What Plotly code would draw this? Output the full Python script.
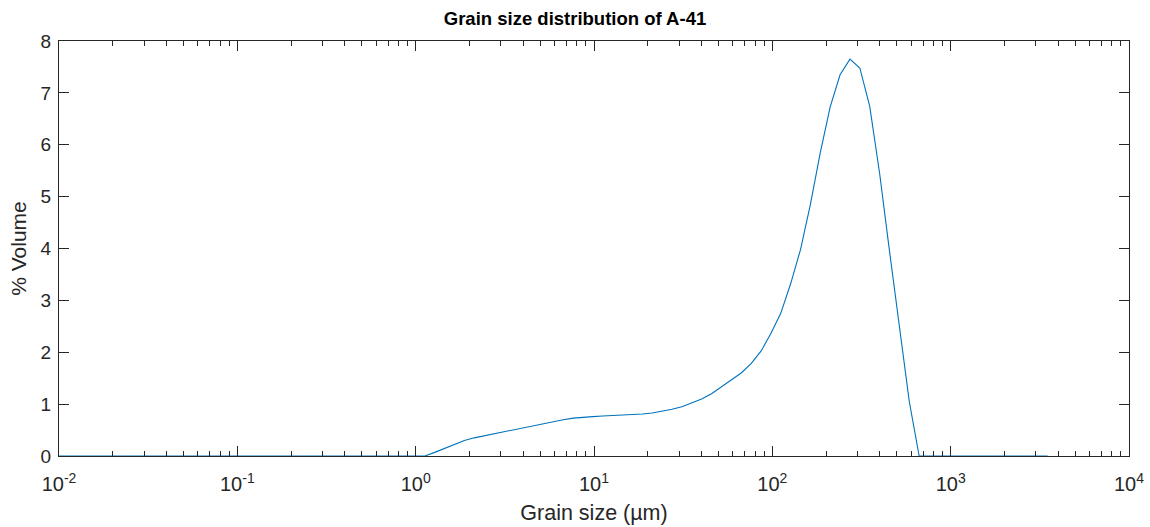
import numpy as np
import plotly.graph_objects as go

# 101 log-spaced size classes, 0.01 - 3500 um (laser diffraction bins)
n_bins = 101
size_min = 0.01
size_max = 3500.0
grain_size = [size_min * (size_max / size_min) ** (i / (n_bins - 1)) for i in range(n_bins)]

# % volume per class (classes 0..100)
volume_pct = (
    [0.0] * 38
    + [0.07, 0.15, 0.23, 0.30, 0.35, 0.39, 0.43, 0.47, 0.51, 0.55,   # 38-47
       0.59, 0.63, 0.67, 0.70, 0.73, 0.75, 0.76, 0.77, 0.78, 0.785,  # 48-57
       0.79, 0.81, 0.83, 0.86, 0.90, 0.95, 1.02, 1.10, 1.20, 1.33,   # 58-67
       1.46, 1.60, 1.78, 2.02, 2.36, 2.75, 3.32, 3.98, 4.85, 5.85,   # 68-77
       6.73, 7.35, 7.65, 7.48, 6.74, 5.45, 3.95, 2.45, 1.05]         # 78-86
    + [0.0] * 14
)

x_tickvals = [1e-2, 1e-1, 1e0, 1e1, 1e2, 1e3, 1e4]
x_ticktext = ["10<sup>-2</sup>", "10<sup>-1</sup>", "10<sup>0</sup>", "10<sup>1</sup>",
              "10<sup>2</sup>", "10<sup>3</sup>", "10<sup>4</sup>"]
y_tickvals = [0, 1, 2, 3, 4, 5, 6, 7, 8]

axis_color = "#262626"
font_family = "Liberation Sans, Arial, Helvetica, sans-serif"

fig = go.Figure()
fig.add_trace(go.Scatter(
    x=grain_size, y=volume_pct, mode="lines",
    line=dict(color="#0072BD", width=1.1),
    showlegend=False, hoverinfo="x+y",
))

fig.update_layout(
    width=1150, height=527,
    margin=dict(l=59, r=21, t=41, b=71),
    paper_bgcolor="white", plot_bgcolor="white",
    font=dict(family=font_family, size=19, color=axis_color),
    title=dict(text="<b>Grain size distribution of A-41</b>",
               x=0.5, xanchor="center", y=0.965, yanchor="middle",
               font=dict(family=font_family, size=18.5, color="black")),
)

fig.update_xaxes(
    type="log", range=[-2, 4], automargin=False,
    tickvals=x_tickvals, ticktext=x_ticktext,
    ticks="inside", ticklen=10, tickwidth=1, tickcolor=axis_color,
    ticklabelstandoff=10,
    minor=dict(ticks="inside", ticklen=5, tickwidth=1, tickcolor=axis_color,
               dtick="D1", showgrid=False),
    showline=True, linecolor=axis_color, linewidth=1, mirror="allticks",
    showgrid=False, zeroline=False,
    tickfont=dict(size=20, color=axis_color),
    title=dict(text="Grain size (µm)", font=dict(size=21.5, color=axis_color), standoff=10),
)
fig.update_yaxes(
    range=[0, 8], tickvals=y_tickvals, automargin=False,
    ticks="inside", ticklen=10, tickwidth=1, tickcolor=axis_color,
    ticklabelstandoff=3,
    showline=True, linecolor=axis_color, linewidth=1, mirror="allticks",
    showgrid=False, zeroline=False,
    tickfont=dict(size=19, color=axis_color),
    title=dict(text="% Volume", font=dict(size=21, color=axis_color), standoff=8),
)

fig.write_html("out.html")
